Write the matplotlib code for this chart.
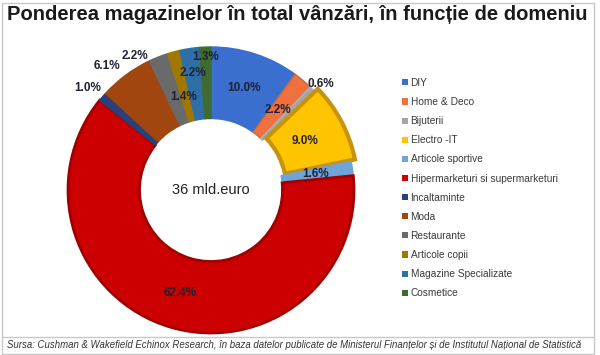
import numpy as np
import matplotlib.pyplot as plt
from matplotlib.patches import Patch, Rectangle
from matplotlib.lines import Line2D

plt.rcParams['font.family'] = ['Liberation Sans', 'DejaVu Sans']

# data
categorii = ['DIY', 'Home & Deco', 'Bijuterii', 'Electro -IT', 'Articole sportive',
             'Hipermarketuri si supermarketuri', 'Incaltaminte', 'Moda', 'Restaurante',
             'Articole copii', 'Magazine Specializate', 'Cosmetice']
ponderi = [10.0, 2.2, 0.6, 9.0, 1.6, 62.4, 1.0, 6.1, 2.2, 1.4, 2.2, 1.3]
culori = ['#3a6fd0', '#f07040', '#a5a5a5', '#ffc400', '#6fa4d8', '#cc0000',
          '#2b3f78', '#a0460e', '#6a6a6a', '#a07800', '#2f6fa8', '#3f6a30']
margini = ['#3a6fd0', '#c86a3c', '#b0b0b0', '#c8920a', '#6fa4d8', '#a00000',
           '#2b3f78', '#a0460e', '#6a6a6a', '#a07800', '#2f6fa8', '#3f6a30']
explode = [0, 0, 0, 0.03, 0, 0, 0, 0, 0, 0, 0, 0]
# label placement (radius, angle shift)
lbl_r = [0.75, 0.73, 1.07, 0.74, 0.74, 0.75, 1.12, 1.13, 1.08, 0.68, 0.83, 0.93]
lbl_da = [0, 0, -1, 0, 0, 0, 1, 3.5, 8, 1, 0, 0]

fig = plt.figure(figsize=(6, 3.55), dpi=100)
W, H = 600, 355

# frame
fig.add_artist(Rectangle((1.5 / W, 1.5 / H), 592 / W, 351 / H, transform=fig.transFigure,
                         fill=False, edgecolor='#c8c8c8', lw=1))
fig.add_artist(Line2D([1.5 / W, 593.5 / W], [1 - 337 / H, 1 - 337 / H],
                      transform=fig.transFigure, color='#c8c8c8', lw=1))

cx, cy, R = 211, 190, 143
lim = 1.1
half = R * lim
ax = fig.add_axes([(cx - half) / W, 1 - (cy + half) / H, 2 * half / W, 2 * half / H])
wedges, _ = ax.pie(ponderi, colors=culori, startangle=90, counterclock=False,
                   explode=explode, radius=1.0,
                   wedgeprops=dict(width=0.5, linewidth=1.0))
for w, ec in zip(wedges, margini):
    w.set_edgecolor(ec)
wedges[5].set_linewidth(2)
wedges[3].set_linewidth(3)
ax.set_xlim(-lim, lim)
ax.set_ylim(-lim, lim)
ax.set_aspect('equal')
ax.axis('off')

for w, v, r, da in zip(wedges, ponderi, lbl_r, lbl_da):
    a = np.deg2rad((w.theta1 + w.theta2) / 2 + da)
    ax.text(r * np.cos(a), r * np.sin(a), f'{v:.1f}%', ha='center', va='center',
            fontsize=8.5, fontweight='bold', color='#1e2233')

ax.text(0, 0, '36 mld.euro', ha='center', va='center', fontsize=10.5, color='#222222')

handles = [Patch(facecolor=c, edgecolor='none') for c in culori]
fig.legend(handles, categorii, loc='upper left', bbox_to_anchor=(402 / W, 1 - 78 / H),
           frameon=False, fontsize=7.3, handlelength=0.55, handleheight=0.55,
           handletextpad=0.3, labelspacing=0.9, borderaxespad=0, borderpad=0,
           labelcolor='#3a3a3a')

fig.text(7 / W, 1 - 15 / H, 'Ponderea magazinelor în total vânzări, în funcție de domeniu',
         ha='left', va='center', fontsize=14.5, fontweight='bold', color='#1a1a1a')
fig.text(7 / W, 1 - 345 / H,
         'Sursa: Cushman & Wakefield Echinox Research, în baza datelor publicate de '
         'Ministerul Finanțelor și de Institutul Național de Statistică',
         ha='left', va='center', fontsize=6.95, style='italic', color='#333333')

fig.savefig('out.png', dpi=100)
